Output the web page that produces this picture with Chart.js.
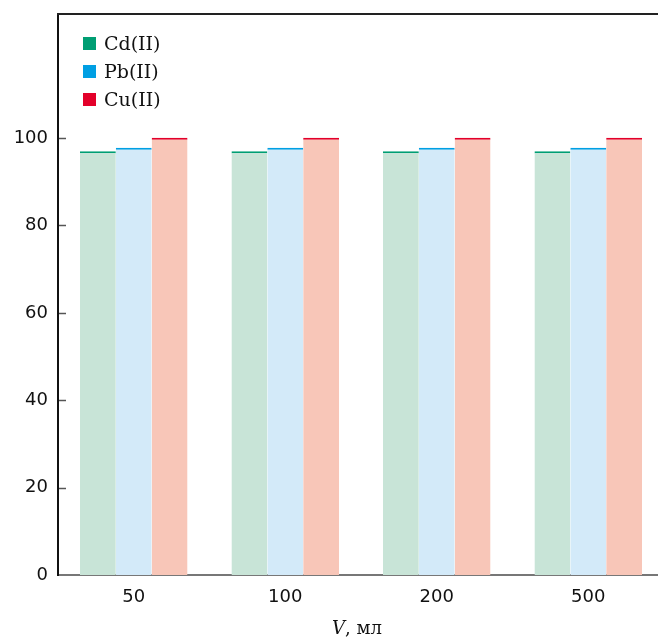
<!DOCTYPE html>
<html>
<head>
<meta charset="utf-8">
<script src="https://cdn.jsdelivr.net/npm/chart.js@4.4.0/dist/chart.umd.min.js"></script>
<style>
  html, body { margin: 0; padding: 0; background: #fff; overflow: hidden; }
  #wrap { position: relative; width: 666px; height: 637px; }
</style>
</head>
<body>
<div id="wrap"><canvas id="myChart"></canvas></div>
<script>
    // объём пробы, мл
    const volumes = ['50', '100', '200', '500'];
    // степень извлечения, %
    const cdValues = [97.0, 97.0, 97.0, 97.0];
    const pbValues = [97.8, 97.8, 97.8, 97.8];
    const cuValues = [100.1, 100.1, 100.1, 100.1];
    const yTicks = [0, 20, 40, 60, 80, 100];

    const seriesNames = ['Cd(II)', 'Pb(II)', 'Cu(II)'];
    const lineColors = ['rgb(0,158,115)', 'rgb(0,159,227)', 'rgb(227,0,42)'];
    const fillColors = ['rgb(200,228,215)', 'rgb(211,234,249)', 'rgb(248,198,184)'];

    const makeSet = (i, values) => ({
      label: seriesNames[i],
      data: values,
      backgroundColor: fillColors[i],
      borderColor: lineColors[i],
      borderWidth: {top: 2, left: 0, right: 0, bottom: 0},
      borderSkipped: false,
      categoryPercentage: 0.71,
      barPercentage: 1.0
    });

    // рамка сверху, внутренние засечки, легенда и подпись оси
    const extras = {
      id: 'extras',
      afterDraw(chart) {
        const c = chart.ctx, a = chart.chartArea, y = chart.scales.y;
        c.save();
        c.strokeStyle = '#222';
        c.lineWidth = 2;
        c.beginPath();
        c.moveTo(a.left - 1, a.top);
        c.lineTo(a.right, a.top);
        c.stroke();

        c.strokeStyle = '#555';
        c.lineWidth = 1.5;
        yTicks.forEach(v => {
          if (v === 0) return;
          const py = Math.round(y.getPixelForValue(v)) + 0.5;
          c.beginPath();
          c.moveTo(y.right + 1, py);
          c.lineTo(y.right + 8, py);
          c.stroke();
        });

        c.font = '19px "DejaVu Serif"';
        c.textBaseline = 'middle';
        c.textAlign = 'left';
        chart.data.datasets.forEach((ds, i) => {
          const cy = 44 + i * 28;
          c.fillStyle = lineColors[i];
          c.fillRect(83, cy - 7, 13, 13);
          c.fillStyle = '#111';
          c.fillText(ds.label, 104, cy + 1);
        });

        const cx = (a.left + a.right) / 2 - 4;
        c.textBaseline = 'alphabetic';
        c.font = 'italic 18px "DejaVu Serif"';
        const w1 = c.measureText('V').width;
        c.font = '18px "DejaVu Serif"';
        const w2 = c.measureText(', мл').width;
        const x0 = cx - (w1 + w2) / 2;
        c.font = 'italic 18px "DejaVu Serif"';
        c.fillText('V', x0, 634);
        c.font = '18px "DejaVu Serif"';
        c.fillText(', мл', x0 + w1, 634);
        c.restore();
      }
    };

    const data = {
      labels: volumes,
      datasets: [makeSet(0, cdValues), makeSet(1, pbValues), makeSet(2, cuValues)]
    };

    const config = {
      type: 'bar',
      data: data,
      plugins: [extras],
      options: {
        responsive: false,
        animation: false,
        layout: { padding: { top: 14, right: 2, left: 0, bottom: 0 } },
        plugins: {
          legend: { display: false },
          tooltip: { enabled: false }
        },
        scales: {
          x: {
            grid: { display: false, drawTicks: false },
            border: { display: true, color: '#777', width: 2 },
            ticks: { color: '#111', padding: 12, font: { family: 'DejaVu Sans', size: 18 } },
            afterFit(scale) { scale.height = 62; }
          },
          y: {
            min: 0,
            max: 128.4,
            grid: { display: false, drawTicks: false },
            border: { display: true, color: '#111', width: 2 },
            ticks: { color: '#111', padding: 10, font: { family: 'DejaVu Sans', size: 18 } },
            afterBuildTicks(scale) { scale.ticks = yTicks.map(v => ({ value: v })); },
            afterFit(scale) { scale.width = 58; scale.paddingTop = 0; scale.paddingBottom = 0; }
          }
        }
      }
    };

    const canvas = document.getElementById('myChart');
    canvas.width = 666;
    canvas.height = 637;
    const myChart = new Chart(canvas, config);
</script>
</body>
</html>
